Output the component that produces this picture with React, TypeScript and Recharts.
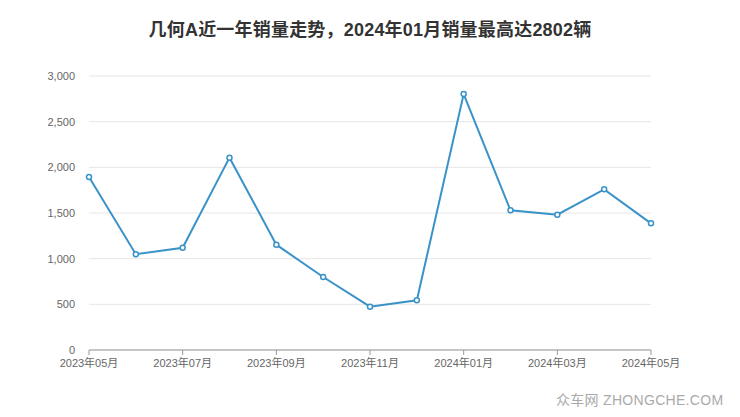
import { LineChart, Line, XAxis, YAxis, CartesianGrid } from 'recharts';

// 几何A monthly sales, 2023-05 → 2024-05
const months = [
  '2023年05月', '2023年06月', '2023年07月', '2023年08月', '2023年09月', '2023年10月',
  '2023年11月', '2023年12月', '2024年01月', '2024年02月', '2024年03月', '2024年04月', '2024年05月',
];
const sales = [1894, 1048, 1120, 2106, 1153, 799, 474, 544, 2802, 1529, 1482, 1759, 1387];
const yTicks = [0, 500, 1000, 1500, 2000, 2500, 3000];

const title = '几何A近一年销量走势，2024年01月销量最高达2802辆';
const watermark = '众车网 ZHONGCHE.COM';

const FONT = '"Liberation Sans", "Noto Sans CJK SC", sans-serif';

export default function App() {
  const data = months.map((m, i) => ({ month: m, sales: sales[i] }));

  return (
    <div style={{ position: 'absolute', left: 0, top: 0, width: 740, height: 417, background: '#fff', fontFamily: FONT }}>
      <div
        style={{
          position: 'absolute',
          top: 19,
          left: 0,
          width: 740,
          textAlign: 'center',
          fontSize: 18,
          fontWeight: 'bold',
          color: '#333',
          lineHeight: '22px',
          letterSpacing: 0.2,
        }}
      >
        {title}
      </div>
      <LineChart width={740} height={417} data={data} margin={{ top: 76, right: 89, left: 29, bottom: 37 }}>
        <CartesianGrid vertical={false} stroke="#e6e6e6" />
        <XAxis
          dataKey="month"
          interval={1}
          height={30}
          tick={{ fontSize: 11, fill: '#666', fontFamily: FONT }}
          tickSize={5}
          stroke="#999"
          tickMargin={4}
        />
        <YAxis
          domain={[0, 3000]}
          ticks={yTicks}
          width={60}
          axisLine={false}
          tickLine={false}
          tickFormatter={(v) => v.toLocaleString('en-US')}
          tick={{ fontSize: 11, fill: '#666', fontFamily: FONT }}
          tickMargin={8}
        />
        <Line
          type="linear"
          dataKey="sales"
          stroke="#3a93c8"
          strokeWidth={2}
          dot={{ r: 2.5, fill: '#fff', stroke: '#3a93c8', strokeWidth: 1.5 }}
          isAnimationActive={false}
        />
      </LineChart>
      <div
        style={{
          position: 'absolute',
          left: 556,
          top: 389,
          fontSize: 14,
          color: '#aaa',
          letterSpacing: 0.3,
        }}
      >
        {watermark}
      </div>
    </div>
  );
}
